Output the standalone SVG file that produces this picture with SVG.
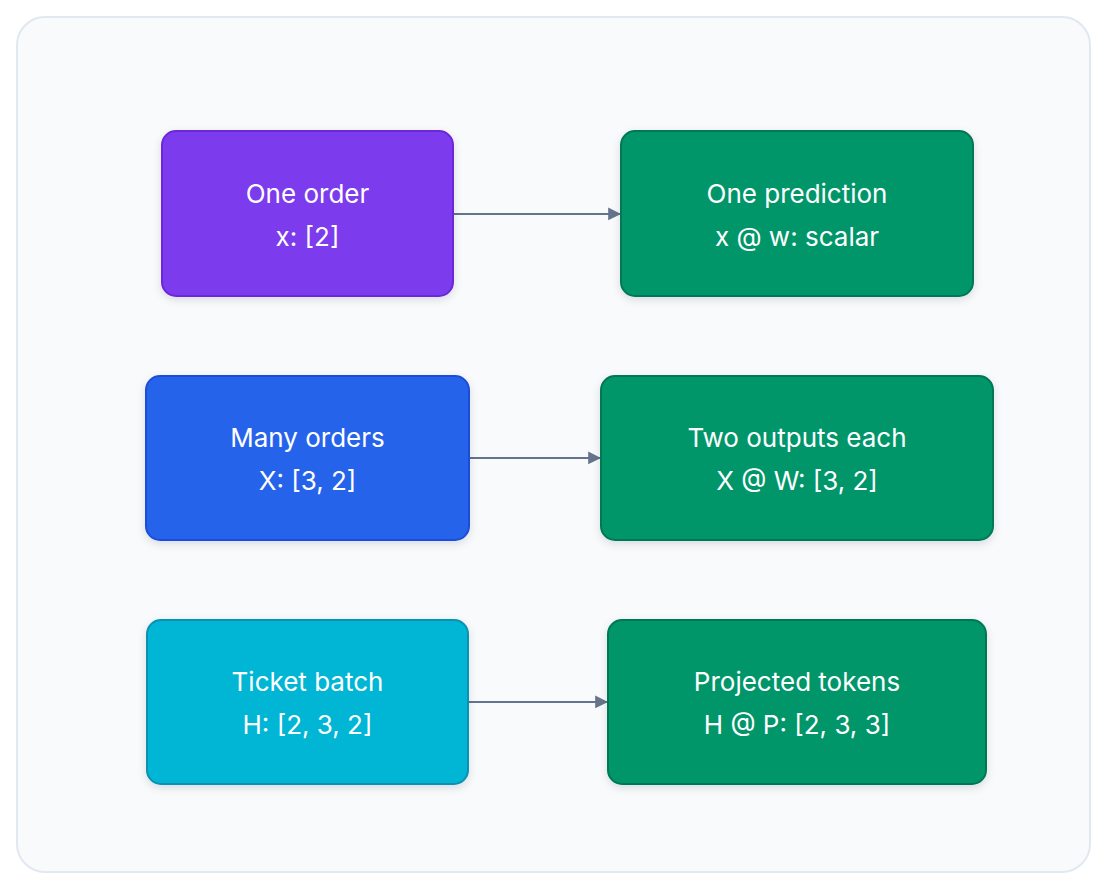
<svg xmlns="http://www.w3.org/2000/svg" width="1108" height="890" viewBox="0 0 1108 890">
<style>
.n{stroke-width:2}
.t{font-family:Inter,"Liberation Sans",sans-serif;font-size:26px;fill:#ffffff;text-anchor:middle}
.c{stroke:#64748b;stroke-width:2;fill:none;marker-end:url(#a)}
</style>
<defs>
<marker id="a" viewBox="0 0 10 10" refX="10" refY="5" markerWidth="8" markerHeight="8" markerUnits="userSpaceOnUse" orient="auto" style="overflow:visible"><path d="M0,0L10,5L0,10z" fill="#64748b" transform="scale(1.6) translate(-3.75,-1.9)"/></marker>
<filter id="s" x="-10%" y="-10%" width="120%" height="130%"><feDropShadow dx="0" dy="3" stdDeviation="4" flood-color="#0f172a" flood-opacity="0.12"/></filter>
</defs>
<rect x="17" y="17" width="1073" height="855" rx="28" fill="#f8fafc" stroke="#e2e8f0" stroke-width="2"/>
<g id="connectors">
<line class="c" x1="453" y1="214" x2="621" y2="214"/>
<line class="c" x1="469" y1="458" x2="601" y2="458"/>
<line class="c" x1="468" y1="702" x2="608" y2="702"/>
</g>
<g id="n1"><rect class="n" filter="url(#s)" x="162" y="131" width="291" height="165" rx="14" fill="#7c3aed" stroke="#6d28d9"/><text class="t" x="307.5" y="203">One order</text><text class="t" x="307.5" y="246">x: [2]</text></g>
<g id="n2"><rect class="n" filter="url(#s)" x="621" y="131" width="352" height="165" rx="14" fill="#059669" stroke="#047857"/><text class="t" x="797" y="203">One prediction</text><text class="t" x="797" y="246">x @ w: scalar</text></g>
<g id="n3"><rect class="n" filter="url(#s)" x="146" y="376" width="323" height="164" rx="14" fill="#2563eb" stroke="#1d4ed8"/><text class="t" x="307.5" y="447">Many orders</text><text class="t" x="307.5" y="490">X: [3, 2]</text></g>
<g id="n4"><rect class="n" filter="url(#s)" x="601" y="376" width="392" height="164" rx="14" fill="#059669" stroke="#047857"/><text class="t" x="797" y="447">Two outputs each</text><text class="t" x="797" y="490">X @ W: [3, 2]</text></g>
<g id="n5"><rect class="n" filter="url(#s)" x="147" y="620" width="321" height="164" rx="14" fill="#06b6d4" stroke="#0891b2"/><text class="t" x="307.5" y="691">Ticket batch</text><text class="t" x="307.5" y="734">H: [2, 3, 2]</text></g>
<g id="n6"><rect class="n" filter="url(#s)" x="608" y="620" width="378" height="164" rx="14" fill="#059669" stroke="#047857"/><text class="t" x="797" y="691">Projected tokens</text><text class="t" x="797" y="734">H @ P: [2, 3, 3]</text></g>
</svg>
